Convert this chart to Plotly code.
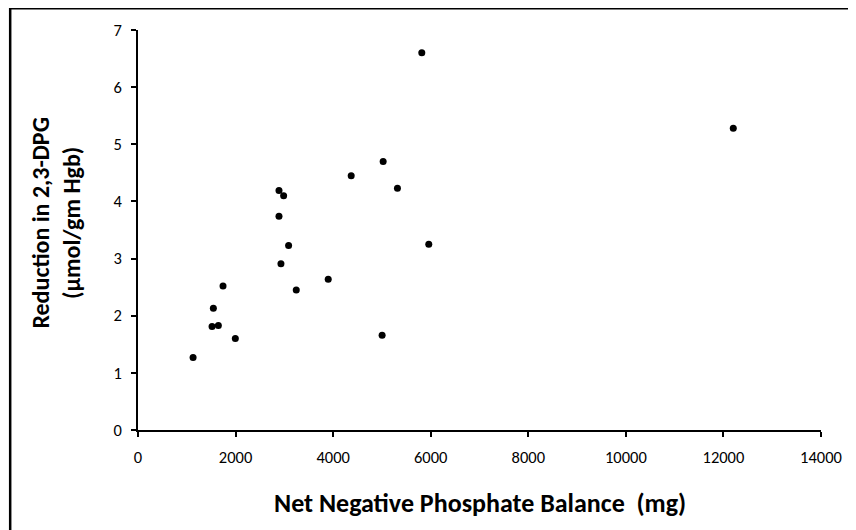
import plotly.graph_objects as go

# Data
phosphate_balance_mg = [5817, 5025, 4370, 5318, 2890, 2985, 2890, 3087, 5960, 2930,
                        3899, 3244, 1743, 1545, 1518, 1647, 1995, 1129, 5004, 12202]
dpg_reduction = [6.60, 4.70, 4.45, 4.23, 4.19, 4.10, 3.74, 3.23, 3.25, 2.91,
                 2.64, 2.45, 2.52, 2.13, 1.81, 1.83, 1.60, 1.27, 1.66, 5.28]

x_title = "Net Negative Phosphate Balance  (mg)"
y_title = "Reduction in 2,3-DPG<br>(µmol/gm Hgb)"

FONT = "Carlito, Lato, 'Liberation Sans', sans-serif"

# page has an 8px body margin; figure coordinates are shifted accordingly
OFF = 8
W, H = 856 - OFF, 530 - OFF
L, T = 137.5 - OFF, 30 - OFF
PW, PH = 684, 400
R, B = W - L - PW, H - T - PH


def px_x(fx):
    return (fx - OFF - L) / PW


def px_y(fy):
    return 1 - (fy - OFF - T) / PH


fig = go.Figure(
    go.Scatter(
        x=phosphate_balance_mg,
        y=dpg_reduction,
        mode="markers",
        marker=dict(color="black", size=7),
        showlegend=False,
        hoverinfo="x+y",
    )
)

fig.update_layout(
    width=W,
    height=H,
    margin=dict(l=L, r=R, t=T, b=B, pad=0),
    paper_bgcolor="white",
    plot_bgcolor="white",
    font=dict(family=FONT, color="black", size=16),
    shapes=[
        dict(
            type="rect",
            xref="paper",
            yref="paper",
            x0=px_x(9.5),
            x1=px_x(870),
            y0=px_y(545),
            y1=px_y(8.3),
            line=dict(color="black", width=2.5),
            fillcolor="rgba(0,0,0,0)",
            layer="below",
        )
    ],
    annotations=[
        dict(
            text=x_title,
            xref="paper",
            yref="paper",
            x=0.5,
            y=px_y(503),
            xanchor="center",
            yanchor="middle",
            showarrow=False,
            font=dict(family=FONT, size=26, color="black", weight="bold"),
        ),
        dict(
            text=y_title,
            xref="paper",
            yref="paper",
            x=px_x(55),
            y=px_y(223),
            xanchor="center",
            yanchor="middle",
            textangle=-90,
            showarrow=False,
            font=dict(family=FONT, size=24, color="black", weight="bold"),
        ),
    ],
)

axis_common = dict(
    showgrid=False,
    zeroline=False,
    showline=True,
    linecolor="black",
    linewidth=1.5,
    ticks="outside",
    ticklen=5,
    tickwidth=1.5,
    tickcolor="black",
    tickfont=dict(family=FONT, size=16.5, color="black"),
    automargin=False,
)

fig.update_xaxes(range=[0, 14000], tick0=0, dtick=2000, tickformat="d",
                 ticklabelstandoff=6, **axis_common)
fig.update_yaxes(range=[0, 7], tick0=0, dtick=1, tickformat="d",
                 ticklabelstandoff=6, **axis_common)

fig.write_html("out.html")
